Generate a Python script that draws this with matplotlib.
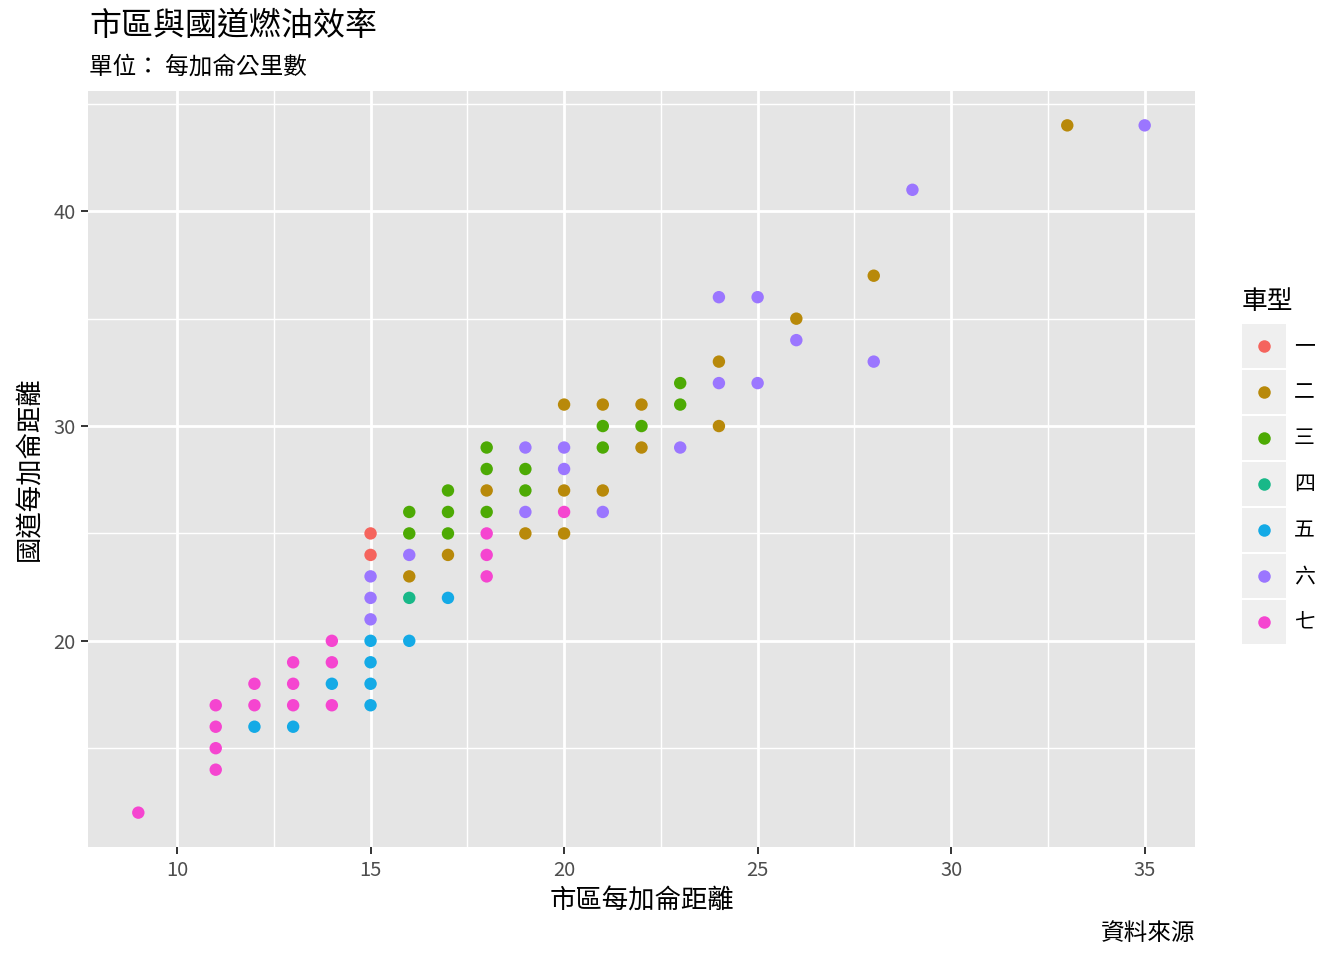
import matplotlib
matplotlib.use("Agg")
import matplotlib.pyplot as plt
import numpy as np
import pandas as pd
from matplotlib.patches import Rectangle
from matplotlib.lines import Line2D

plt.rcParams['font.family'] = ['Noto Sans CJK TC', 'DejaVu Sans']

# city / highway miles per gallon and vehicle class (visible points)
cty = [15, 15,
       16, 17, 18, 19, 20, 20, 20, 21, 21, 22, 22, 24, 24, 26, 28, 33,
       16, 16, 17, 17, 17, 18, 18, 18, 19, 19, 21, 21, 22, 23, 23,
       16,
       12, 13, 14, 15, 15, 15, 15, 16, 17,
       15, 15, 15, 16, 19, 19, 20, 20, 21, 23, 24, 24, 25, 25, 26, 28, 29, 35,
       9, 11, 11, 11, 11, 12, 12, 13, 13, 13, 14, 14, 14, 18, 18, 18, 20]
hwy = [25, 24,
       23, 24, 27, 25, 31, 27, 25, 31, 27, 31, 29, 33, 30, 35, 37, 44,
       26, 25, 27, 26, 25, 29, 28, 26, 28, 27, 30, 29, 30, 32, 31,
       22,
       16, 16, 18, 20, 19, 18, 17, 20, 22,
       23, 22, 21, 24, 29, 26, 29, 28, 26, 29, 36, 32, 36, 32, 34, 33, 41, 44,
       12, 17, 16, 15, 14, 18, 17, 19, 18, 17, 20, 19, 17, 25, 24, 23, 26]
cls = (["一"] * 2 + ["二"] * 16 + ["三"] * 15 + ["四"] * 1 +
       ["五"] * 9 + ["六"] * 18 + ["七"] * 17)

class_labels = ["一", "二", "三", "四", "五", "六", "七"]
class_colors = ["#F5645D", "#B8890A", "#4DAA04", "#18B888",
                "#14AAE6", "#9B76FF", "#F545D0"]

df = pd.DataFrame({"cty": cty, "hwy": hwy, "cls": cls})

W, H = 1344, 960
fig = plt.figure(figsize=(W / 100, H / 100), dpi=100)


def fx(px):
    return px / W


def fy(py):
    return 1 - py / H


ax = fig.add_axes([fx(88), fy(847), fx(1195) - fx(88), fy(91) - fy(847)])
ax.set_facecolor("#E5E5E5")
for s in ax.spines.values():
    s.set_visible(False)

xmin, xmax = df.cty.min(), df.cty.max()
ymin, ymax = df.hwy.min(), df.hwy.max()
ax.set_xlim(xmin - 0.05 * (xmax - xmin), xmax + 0.05 * (xmax - xmin))
ax.set_ylim(ymin - 0.05 * (ymax - ymin), ymax + 0.05 * (ymax - ymin))
ax.set_xticks([10, 15, 20, 25, 30, 35])
ax.set_xticks([12.5, 17.5, 22.5, 27.5, 32.5], minor=True)
ax.set_yticks([20, 30, 40])
ax.set_yticks([15, 25, 35, 45], minor=True)
ax.grid(which="major", color="white", lw=2.0)
ax.grid(which="minor", color="white", lw=1.0)
ax.set_axisbelow(True)
ax.tick_params(which="major", length=5, width=1.4, color="#333333",
               labelcolor="#4D4D4D", labelsize=14.5, pad=4)
ax.tick_params(which="minor", length=0)

for lab, col in zip(class_labels, class_colors):
    sub = df[df.cls == lab]
    ax.scatter(sub.cty, sub.hwy, s=80, color=col, edgecolors="none", zorder=3)

ax.set_xlabel("市區每加侖距離", fontsize=19, labelpad=5)
ax.set_ylabel("國道每加侖距離", fontsize=19, labelpad=7)

fig.text(fx(89), fy(26), "市區與國道燃油效率", fontsize=23, va="center", ha="left")
fig.text(fx(89), fy(67), "單位： 每加侖公里數", fontsize=17, va="center", ha="left")
fig.text(fx(1195), fy(934), "資料來源", fontsize=17, va="center", ha="right")

# legend
fig.text(fx(1242), fy(302), "車型", fontsize=18.5, va="center", ha="left")
for i, (lab, col) in enumerate(zip(class_labels, class_colors)):
    yc = 346 + 46 * i
    fig.add_artist(Rectangle((fx(1242), fy(yc + 22)), fx(44), 44 / H,
                             transform=fig.transFigure, facecolor="#EFEFEF",
                             edgecolor="none"))
    fig.add_artist(Line2D([fx(1264)], [fy(yc)], transform=fig.transFigure,
                          marker="o", markersize=9, color=col, mec="none", ls=""))
    fig.text(fx(1294), fy(yc), lab, fontsize=15, va="center", ha="left")

fig.savefig("out.png", dpi=100)
